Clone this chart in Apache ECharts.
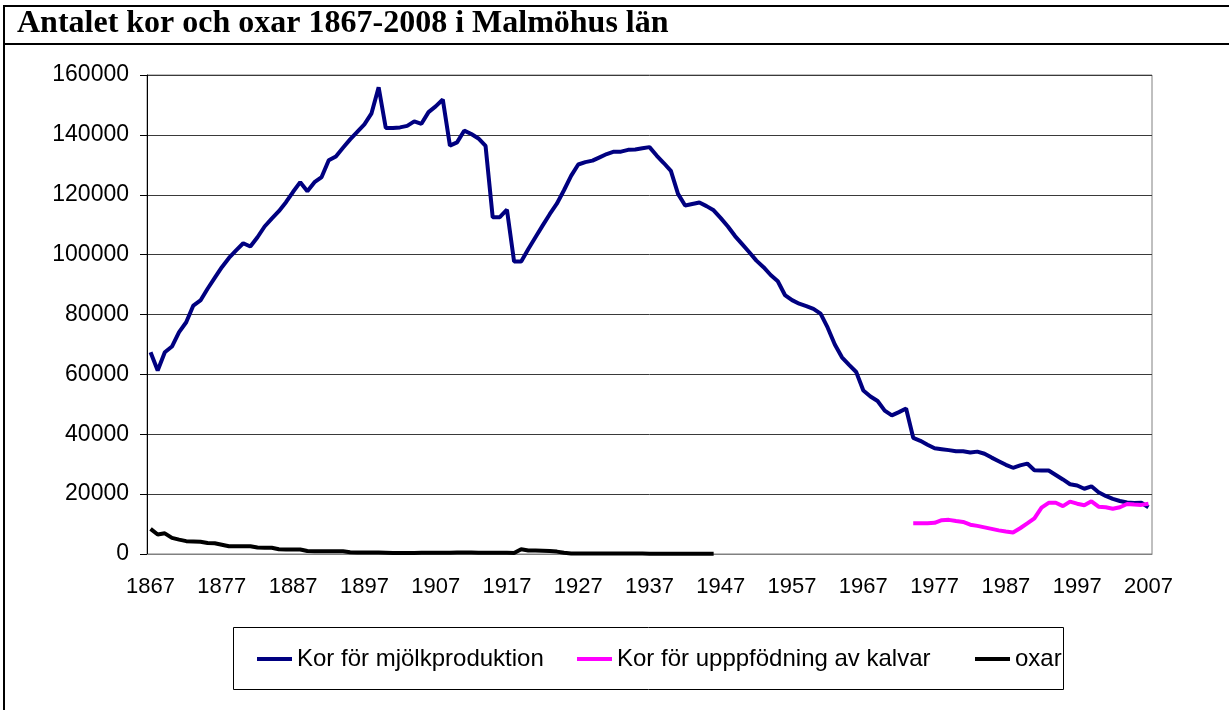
<!DOCTYPE html>
<html>
<head>
<meta charset="utf-8">
<script src="https://cdn.jsdelivr.net/npm/echarts@6.0.0/dist/echarts.min.js"></script>
<style>
  html, body { margin: 0; padding: 0; background: #fff; }
  #chart { width: 1229px; height: 710px; }
</style>
</head>
<body>
<div id="chart"></div>
<script>
// years 1867-2007, one category per year
const years = [];
for (let y = 1867; y <= 2007; y++) years.push(String(y));

// Kor för mjölkproduktion, 1867-2007
const mjolk = [
  67400, 61300, 67400, 69300, 74100, 77400, 83000, 84700, 88600, 92200,
  95800, 98900, 101400, 103800, 102700, 105800, 109400, 112000, 114500, 117500,
  121000, 124200, 121200, 124200, 125900, 131500, 132800, 135700, 138500, 141000,
  143500, 147200, 155900, 142300, 142300, 142500, 143000, 144500, 143700, 147600,
  149500, 151800, 136400, 137500, 141400, 140300, 138800, 136300, 112500, 112500,
  115000, 97700, 97700, 101900, 105800, 109700, 113500, 117000, 121500, 126300,
  130100, 130900, 131400, 132500, 133600, 134400, 134400, 135000, 135100, 135500,
  135900, 133100, 130600, 128000, 120300, 116400, 116900, 117400, 116200, 114800,
  112200, 109400, 106200, 103500, 100800, 98000, 95800, 93200, 91100, 86500,
  84800, 83600, 82800, 81900, 80300, 75600, 70000, 65700, 63200, 60800,
  54600, 52600, 51100, 47900, 46300, 47400, 48600, 38800, 37800, 36500,
  35300, 35000, 34700, 34300, 34300, 33900, 34200, 33500, 32200, 31000,
  29800, 28800, 29600, 30200, 28000, 27900, 27900, 26400, 24900, 23300,
  22900, 21800, 22600, 20600, 19400, 18400, 17700, 17200, 17000, 17100,
  15600
];

// Kor för uppfödning av kalvar, 1974-2007
const kalvarStart = 1974;
const kalvar = [
  10300, 10300, 10300, 10400, 11300, 11400, 11000, 10700, 9800, 9400,
  8900, 8400, 7900, 7500, 7200, 8600, 10200, 11900, 15500, 17100,
  17100, 16000, 17500, 16800, 16300, 17600, 15800, 15600, 15100, 15600,
  16700, 16500, 16400, 16800
];

// oxar, 1867-1946
const oxar = [
  8400, 6500, 6900, 5400, 4800, 4300, 4200, 4100, 3700, 3600,
  3100, 2600, 2600, 2600, 2600, 2200, 2100, 2100, 1600, 1500,
  1500, 1500, 1000, 900, 900, 900, 900, 900, 600, 500,
  500, 500, 500, 400, 300, 300, 300, 300, 400, 400,
  400, 400, 400, 500, 500, 500, 400, 400, 400, 400,
  400, 300, 1600, 1200, 1200, 1100, 1000, 800, 400, 200,
  200, 200, 200, 200, 200, 200, 200, 200, 200, 200,
  100, 100, 100, 100, 100, 100, 100, 100, 100, 100
];

const names = ['Kor för mjölkproduktion', 'Kor för upppfödning av kalvar', 'oxar'];
const colors = ['#000080', '#ff00ff', '#000000'];

// pad shorter series with nulls so they line up with the years
const kalvarFull = years.map((y) => {
  const k = Number(y) - kalvarStart;
  return k >= 0 && k < kalvar.length ? kalvar[k] : null;
});
const oxarFull = years.map((y, i) => (i < oxar.length ? oxar[i] : null));

const chart = echarts.init(document.getElementById('chart'));

const legendBase = {
  top: 647,
  icon: 'rect',
  itemWidth: 35,
  itemHeight: 4,
  padding: 0,
  textStyle: { fontFamily: 'Liberation Sans, Arial, sans-serif', fontSize: 24, color: '#000' }
};

chart.setOption({
  animation: false,
  backgroundColor: '#fff',
  color: colors,
  title: {
    text: 'Antalet kor och oxar 1867-2008 i Malmöhus län',
    left: 17,
    top: 8,
    padding: 0,
    textStyle: {
      fontFamily: 'Liberation Serif, Times New Roman, serif',
      fontWeight: 'bold',
      fontSize: 32,
      color: '#000'
    }
  },
  legend: [
    Object.assign({}, legendBase, { left: 257, data: [names[0]] }),
    Object.assign({}, legendBase, { left: 577, data: [names[1]] }),
    Object.assign({}, legendBase, { left: 975, data: [names[2]] })
  ],
  graphic: [
    // outer frame and title rule
    { type: 'rect', shape: { x: 4, y: 6, width: 1400, height: 900 },
      style: { fill: null, stroke: '#000', lineWidth: 2 }, silent: true },
    { type: 'line', shape: { x1: 4, y1: 44, x2: 1229, y2: 44 },
      style: { stroke: '#000', lineWidth: 2 }, silent: true },
    // legend box
    { type: 'rect', shape: { x: 233.5, y: 627.5, width: 830, height: 62 },
      style: { fill: null, stroke: '#000', lineWidth: 1 }, silent: true }
  ],
  grid: {
    left: 147,
    right: 77,
    top: 75,
    bottom: 156,
    show: true,
    borderColor: '#808080',
    borderWidth: 1
  },
  xAxis: {
    type: 'category',
    data: years,
    boundaryGap: true,
    axisLine: { show: true, lineStyle: { color: '#808080', width: 1 } },
    axisTick: { show: false },
    axisLabel: {
      interval: 9,
      margin: 22,
      fontFamily: 'Liberation Sans, Arial, sans-serif',
      fontSize: 22,
      color: '#000'
    },
    splitLine: { show: false }
  },
  yAxis: {
    type: 'value',
    min: 0,
    max: 160000,
    interval: 20000,
    axisLine: { show: true, lineStyle: { color: '#000', width: 1 } },
    axisTick: { show: true, inside: false, length: 7, lineStyle: { color: '#000' } },
    axisLabel: {
      margin: 18,
      fontFamily: 'Liberation Sans, Arial, sans-serif',
      fontSize: 23,
      color: '#000',
      formatter: (v) => String(v)
    },
    splitLine: { show: true, lineStyle: { color: '#3a3a3a', width: 1 } }
  },
  series: [
    { name: names[0], type: 'line', data: mjolk, showSymbol: false, symbol: 'none',
      lineStyle: { color: colors[0], width: 4 } },
    { name: names[1], type: 'line', data: kalvarFull, showSymbol: false, symbol: 'none',
      lineStyle: { color: colors[1], width: 4 } },
    { name: names[2], type: 'line', data: oxarFull, showSymbol: false, symbol: 'none',
      lineStyle: { color: colors[2], width: 4 } }
  ]
});
</script>
</body>
</html>
